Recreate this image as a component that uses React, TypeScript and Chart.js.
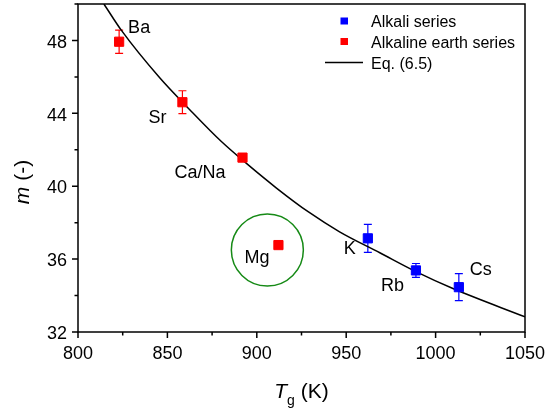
import React, { useEffect, useRef } from 'react';
import { Chart, registerables } from 'chart.js';

Chart.register(...registerables);

const FONT = '"Liberation Sans", Arial, Helvetica, sans-serif';

// Axis ticks
const xTicks = [800, 850, 900, 950, 1000, 1050];
const xMinorTicks = [825, 875, 925, 975, 1025];
const yTicks = [32, 36, 40, 44, 48];
const yMinorTicks = [34, 38, 42, 46, 50];

// Alkali series (blue)
const alkaliNames = ['K', 'Rb', 'Cs'];
const alkaliTg = [962.1, 989.0, 1013.0];
const alkaliM = [37.14, 35.38, 34.46];
const alkaliErr = [0.77, 0.38, 0.74];

// Alkaline earth series (red)
const earthNames = ['Ba', 'Sr', 'Ca/Na', 'Mg'];
const earthTg = [823.0, 858.4, 892.0, 912.1];
const earthM = [47.93, 44.61, 41.57, 36.77];
const earthErr = [0.64, 0.63, 0, 0];

// Eq. (6.5) curve
const eqTg = [814.5, 824.3, 845.7, 862.5, 880.2, 894.2, 911.0, 928.7, 946.3, 968.8, 989.3, 1010.0, 1050.0];
const eqM = [50.0, 48.55, 45.95, 44.2, 42.45, 41.25, 39.9, 38.6, 37.5, 36.35, 35.3, 34.37, 32.83];

// Highlight circle around Mg
const highlightTg = [905.9];
const highlightM = [36.5];

const BLUE = '#0000ff';
const RED = '#ff0000';
const GREEN = '#168a16';

// text placement relative to each point (px offset, alignment)
const labelPlacement: Record<string, [number, number, CanvasTextAlign]> = {
  Ba: [9, -9, 'left'],
  Sr: [-16, 21, 'right'],
  'Ca/Na': [-17, 20.5, 'right'],
  Mg: [-9, 18.3, 'right'],
  K: [-12, 16, 'right'],
  Rb: [-12, 20.7, 'right'],
  Cs: [11, -12.4, 'left'],
};

const errorBarPlugin = {
  id: 'errorBars',
  beforeDatasetsDraw(chart: any) {
    const ctx = chart.ctx;
    const xs = chart.scales.x;
    const ys = chart.scales.y;
    const groups = [
      { tg: alkaliTg, m: alkaliM, err: alkaliErr, color: BLUE },
      { tg: earthTg, m: earthM, err: earthErr, color: RED },
    ];
    ctx.save();
    ctx.lineWidth = 1.2;
    groups.forEach((g) => {
      ctx.strokeStyle = g.color;
      g.tg.forEach((t, i) => {
        if (!g.err[i]) return;
        const px = xs.getPixelForValue(t);
        const top = ys.getPixelForValue(g.m[i] + g.err[i]);
        const bot = ys.getPixelForValue(g.m[i] - g.err[i]);
        ctx.beginPath();
        ctx.moveTo(px, top);
        ctx.lineTo(px, bot);
        ctx.moveTo(px - 4, top);
        ctx.lineTo(px + 4, top);
        ctx.moveTo(px - 4, bot);
        ctx.lineTo(px + 4, bot);
        ctx.stroke();
      });
    });
    ctx.restore();
  },
};

const decorPlugin = {
  id: 'decor',
  afterDraw(chart: any) {
    const ctx = chart.ctx;
    const a = chart.chartArea;
    const xs = chart.scales.x;
    const ys = chart.scales.y;
    ctx.save();
    // frame
    ctx.strokeStyle = '#000';
    ctx.lineWidth = 1.5;
    ctx.strokeRect(a.left, a.top, a.right - a.left, a.bottom - a.top);
    // ticks
    ctx.beginPath();
    xTicks.forEach((v) => {
      const p = xs.getPixelForValue(v);
      ctx.moveTo(p, a.bottom);
      ctx.lineTo(p, a.bottom + 6);
    });
    xMinorTicks.forEach((v) => {
      const p = xs.getPixelForValue(v);
      ctx.moveTo(p, a.bottom);
      ctx.lineTo(p, a.bottom + 3.5);
    });
    yTicks.forEach((v) => {
      const p = ys.getPixelForValue(v);
      ctx.moveTo(a.left, p);
      ctx.lineTo(a.left - 6, p);
    });
    yMinorTicks.forEach((v) => {
      const p = ys.getPixelForValue(v);
      ctx.moveTo(a.left, p);
      ctx.lineTo(a.left - 3.5, p);
    });
    ctx.stroke();

    // tick labels
    ctx.fillStyle = '#000';
    ctx.font = `18px ${FONT}`;
    ctx.textBaseline = 'alphabetic';
    ctx.textAlign = 'center';
    xTicks.forEach((v) => {
      ctx.fillText(String(v), xs.getPixelForValue(v), a.bottom + 26.5);
    });
    ctx.textAlign = 'right';
    yTicks.forEach((v) => {
      ctx.fillText(String(v), a.left - 11, ys.getPixelForValue(v) + 7.2);
    });

    // point labels
    const drawLabels = (names: string[], tg: number[], m: number[]) => {
      names.forEach((n, i) => {
        const pl = labelPlacement[n];
        const px = xs.getPixelForValue(tg[i]);
        const py = ys.getPixelForValue(m[i]);
        ctx.textAlign = pl[2];
        ctx.fillText(n, px + pl[0], py + pl[1]);
      });
    };
    drawLabels(alkaliNames, alkaliTg, alkaliM);
    drawLabels(earthNames, earthTg, earthM);

    // legend
    ctx.textAlign = 'left';
    ctx.font = `16px ${FONT}`;
    ctx.fillStyle = BLUE;
    ctx.fillRect(340.5, 17.5, 7.5, 7);
    ctx.fillStyle = RED;
    ctx.fillRect(340.5, 38, 7.5, 7);
    ctx.strokeStyle = '#000';
    ctx.lineWidth = 1.5;
    ctx.beginPath();
    ctx.moveTo(325, 62.5);
    ctx.lineTo(363, 62.5);
    ctx.stroke();
    ctx.fillStyle = '#000';
    ctx.fillText('Alkali series', 371, 27.3);
    ctx.fillText('Alkaline earth series', 371, 48);
    ctx.fillText('Eq. (6.5)', 371, 68.5);

    // x title: T_g (K)
    const cx = (a.left + a.right) / 2;
    ctx.font = `italic 21px ${FONT}`;
    const wT = ctx.measureText('T').width;
    ctx.font = `14px ${FONT}`;
    const wG = ctx.measureText('g').width;
    ctx.font = `21px ${FONT}`;
    const wK = ctx.measureText(' (K)').width;
    let sx = cx - (wT + wG + wK) / 2;
    ctx.font = `italic 21px ${FONT}`;
    ctx.fillText('T', sx, 398);
    sx += wT;
    ctx.font = `14px ${FONT}`;
    ctx.fillText('g', sx, 404.5);
    sx += wG;
    ctx.font = `21px ${FONT}`;
    ctx.fillText(' (K)', sx, 398);

    // y title: m (-)
    ctx.save();
    ctx.translate(28.5, 182);
    ctx.rotate(-Math.PI / 2);
    ctx.font = `italic 21px ${FONT}`;
    const wm = ctx.measureText('m').width;
    ctx.font = `21px ${FONT}`;
    const wp = ctx.measureText(' (-)').width;
    let ty = -(wm + wp) / 2;
    ctx.font = `italic 21px ${FONT}`;
    ctx.fillText('m', ty, 0);
    ty += wm;
    ctx.font = `21px ${FONT}`;
    ctx.fillText(' (-)', ty, 0);
    ctx.restore();

    ctx.restore();
  },
};

export default function App() {
  const canvasRef = useRef<HTMLCanvasElement | null>(null);

  useEffect(() => {
    const canvas = canvasRef.current;
    if (!canvas) return;
    const chart = new Chart(canvas, {
      type: 'scatter',
      data: {
        datasets: [
          {
            label: 'Eq. (6.5)',
            type: 'line',
            data: eqTg.map((t, i) => ({ x: t, y: eqM[i] })),
            borderColor: '#000',
            borderWidth: 1.5,
            pointRadius: 0,
            fill: false,
            cubicInterpolationMode: 'monotone',
            order: 3,
          } as any,
          {
            label: 'Alkali series',
            data: alkaliTg.map((t, i) => ({ x: t, y: alkaliM[i] })),
            backgroundColor: BLUE,
            borderColor: BLUE,
            borderWidth: 1,
            pointStyle: 'rect',
            pointRadius: 6.5,
            order: 1,
          },
          {
            label: 'Alkaline earth series',
            data: earthTg.map((t, i) => ({ x: t, y: earthM[i] })),
            backgroundColor: RED,
            borderColor: RED,
            borderWidth: 1,
            pointStyle: 'rect',
            pointRadius: 6.5,
            order: 1,
          },
          {
            label: 'highlight',
            data: highlightTg.map((t, i) => ({ x: t, y: highlightM[i] })),
            backgroundColor: 'rgba(0,0,0,0)',
            borderColor: GREEN,
            borderWidth: 1.5,
            pointStyle: 'circle',
            pointRadius: 36,
            order: 2,
          },
        ],
      },
      options: {
        responsive: false,
        animation: false,
        events: [],
        layout: { autoPadding: false, padding: { top: 4, right: 23, left: 0, bottom: 0 } },
        plugins: {
          legend: { display: false },
          tooltip: { enabled: false },
        },
        scales: {
          x: {
            type: 'linear',
            min: 800,
            max: 1050,
            afterBuildTicks: (s: any) => {
              s.ticks = xTicks.map((v) => ({ value: v }));
            },
            afterFit: (s: any) => {
              s.height = 76;
            },
            ticks: { display: false },
            grid: { display: false, drawTicks: false },
            border: { display: false },
          },
          y: {
            type: 'linear',
            min: 32,
            max: 50,
            afterBuildTicks: (s: any) => {
              s.ticks = yTicks.map((v) => ({ value: v }));
            },
            afterFit: (s: any) => {
              s.width = 78;
            },
            ticks: { display: false },
            grid: { display: false, drawTicks: false },
            border: { display: false },
          },
        },
      },
      plugins: [errorBarPlugin, decorPlugin],
    });
    return () => chart.destroy();
  }, []);

  return (
    <div style={{ position: 'fixed', left: 0, top: 0, width: 548, height: 408, background: '#fff' }}>
      <canvas ref={canvasRef} width={548} height={408} style={{ display: 'block' }} />
    </div>
  );
}
